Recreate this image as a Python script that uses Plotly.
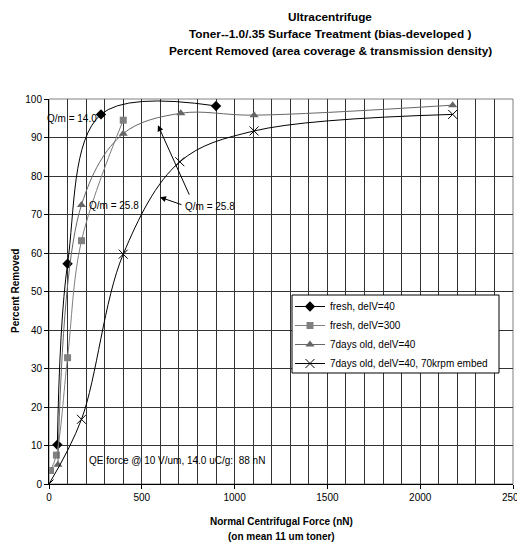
import plotly.graph_objects as go

# Data
fresh40_x = [45, 100, 280, 900]
fresh40_y = [10.2, 57.2, 96.0, 98.2]

fresh300_x = [8, 40, 100, 175, 400]
fresh300_y = [3.5, 7.5, 32.8, 63.2, 94.5]

old40_x = [48, 175, 400, 710, 1105, 2175]
old40_y = [5.0, 72.5, 91.0, 96.3, 95.8, 98.4]

embed_x = [0, 175, 400, 705, 1105, 2175]
embed_y = [0.0, 16.8, 59.7, 83.7, 91.7, 96.0]

x_ticks = [0, 500, 1000, 1500, 2000, 2500]
y_ticks = list(range(0, 101, 10))

FONT = "Liberation Sans, Arial, sans-serif"

# page body has an 8px margin: plot area should land at x 49..513, y 99..484
OFF = 8
PL, PR, PT, PB = 49, 513, 99, 484
PW, PH = PR - PL, PB - PT


def px(x):
    return (x - PL) / PW


def py(y):
    return (PB - y) / PH


fig = go.Figure()
fig.add_trace(go.Scatter(
    x=fresh40_x, y=fresh40_y, name="fresh, delV=40", mode="lines+markers",
    line=dict(color="#000000", width=1, shape="spline"),
    marker=dict(symbol="diamond", size=8, color="#000000")))
fig.add_trace(go.Scatter(
    x=fresh300_x, y=fresh300_y, name="fresh, delV=300", mode="lines+markers",
    line=dict(color="#808080", width=1, shape="spline"),
    marker=dict(symbol="square", size=7, color="#808080")))
fig.add_trace(go.Scatter(
    x=old40_x, y=old40_y, name="7days old, delV=40", mode="lines+markers",
    line=dict(color="#666666", width=1, shape="spline"),
    marker=dict(symbol="triangle-up", size=8, color="#666666")))
fig.add_trace(go.Scatter(
    x=embed_x, y=embed_y, name="7days old, delV=40, 70krpm embed", mode="lines+markers",
    line=dict(color="#000000", width=1, shape="spline"),
    marker=dict(symbol="x-thin-open", size=9, color="#000000",
                line=dict(width=1, color="#000000"))))

f10 = dict(family=FONT, size=10, color="#000000")
annotations = [
    dict(xref="paper", yref="paper", x=px(45), y=py(118), text="Q/m = 14.0",
         showarrow=False, xanchor="left", yanchor="middle", font=f10),
    dict(xref="paper", yref="paper", x=px(87), y=py(205), text="Q/m = 25.8",
         showarrow=False, xanchor="left", yanchor="middle", font=f10),
    dict(xref="paper", yref="paper", x=px(183), y=py(206), text="Q/m = 25.8",
         showarrow=False, xanchor="left", yanchor="middle", font=f10),
    dict(xref="paper", yref="paper", x=px(87), y=py(460),
         text="QE force @ 10 V/um, 14.0 uC/g:  88 nN", showarrow=False,
         xanchor="left", yanchor="middle", font=f10),
    dict(x=587, y=93.2, text="", showarrow=True, ax=32, ay=71, arrowhead=2,
         arrowsize=1.2, arrowwidth=1, arrowcolor="#000000"),
    dict(x=598, y=74.5, text="", showarrow=True, ax=23, ay=8, arrowhead=2,
         arrowsize=1.2, arrowwidth=1, arrowcolor="#000000"),
]

tfont = dict(family=FONT, size=11.8, color="#000000")
afont = dict(family=FONT, size=10, color="#000000")
annotations += [
    dict(xref="paper", yref="paper", x=px(330), y=py(17),
         text="<b>Ultracentrifuge</b>", showarrow=False, xanchor="center", yanchor="middle",
         font=tfont),
    dict(xref="paper", yref="paper", x=px(330), y=py(34),
         text="<b>Toner--1.0/.35 Surface Treatment (bias-developed )</b>", showarrow=False,
         xanchor="center", yanchor="middle", font=tfont),
    dict(xref="paper", yref="paper", x=px(330), y=py(51),
         text="<b>Percent Removed (area coverage & transmission density)</b>", showarrow=False,
         xanchor="center", yanchor="middle", font=tfont),
    dict(xref="paper", yref="paper", x=px(281), y=py(521),
         text="<b>Normal Centrifugal Force (nN)</b>", showarrow=False,
         xanchor="center", yanchor="middle", font=afont),
    dict(xref="paper", yref="paper", x=px(281), y=py(536),
         text="<b>(on mean 11 um toner)</b>", showarrow=False,
         xanchor="center", yanchor="middle", font=afont),
    dict(xref="paper", yref="paper", x=px(15), y=py(291),
         text="<b>Percent Removed</b>", showarrow=False, textangle=-90,
         xanchor="center", yanchor="middle", font=afont),
]

fig.update_layout(
    width=525 - OFF, height=546 - OFF,
    margin=dict(l=PL - OFF, r=525 - PR, t=PT - OFF, b=546 - PB, autoexpand=False),
    paper_bgcolor="#ffffff", plot_bgcolor="#ffffff",
    font=dict(family=FONT, size=10, color="#000000"),
    showlegend=True,
    legend=dict(x=px(290), y=py(292), xanchor="left", yanchor="top",
                bgcolor="rgba(0,0,0,0)", borderwidth=0,
                font=dict(family=FONT, size=10, color="#000000"),
                tracegroupgap=0, itemwidth=30),
    annotations=annotations,
    xaxis=dict(range=[0, 2500], tickvals=x_ticks, ticktext=[str(v) for v in x_ticks],
               showgrid=True, gridcolor="#333333", gridwidth=1, automargin=False,
               ticklabeloverflow="allow",
               zeroline=False, showline=True, linecolor="#000000", linewidth=1,
               ticks="outside", ticklen=4, tickcolor="#000000",
               minor=dict(dtick=100, showgrid=True, gridcolor="#333333", gridwidth=1)),
    yaxis=dict(range=[0, 100], tickvals=y_ticks, ticktext=[str(v) for v in y_ticks],
               showgrid=True, gridcolor="#333333", gridwidth=1, automargin=False,
               zeroline=False, showline=True, linecolor="#000000", linewidth=1,
               ticks="outside", ticklen=4, tickcolor="#000000"),
    shapes=[
        dict(type="rect", xref="paper", yref="paper", x0=0, y0=0, x1=1, y1=1,
             line=dict(color="#808080", width=1), layer="below"),
        dict(type="rect", xref="paper", yref="paper", x0=px(292), y0=py(373),
             x1=px(499), y1=py(295), fillcolor="#ffffff",
             line=dict(color="#000000", width=1), layer="above"),
    ],
)

fig.write_html("out.html")
